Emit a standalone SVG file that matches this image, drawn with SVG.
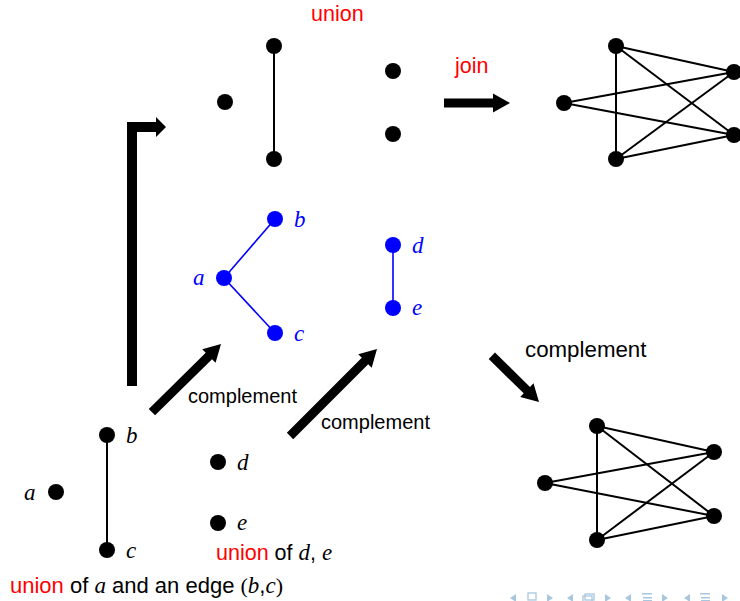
<svg xmlns="http://www.w3.org/2000/svg" width="740" height="601" viewBox="0 0 740 601">
<style>
.dot{fill:#000}
.bdot{fill:#0000ff}
.e{stroke:#000;stroke-width:2;fill:none}
.be{stroke:#0000ff;stroke-width:1.6;fill:none}
.arr{fill:#000}
.s{font-family:"Liberation Sans",Arial,sans-serif;fill:#000}
.red{fill:#ff0000}
.m{font-family:"Liberation Serif","Times New Roman",serif;font-style:italic;font-size:23px;fill:#000}
.mb{fill:#0000ff}
.nav{fill:#a9c6df}
</style>
<rect width="740" height="601" fill="#fff"/>

<g id="connectors">
  <line class="e" x1="274" y1="46" x2="274" y2="159"/>
  <g id="join-edges">
    <line class="e" x1="616" y1="46" x2="616" y2="159"/>
    <line class="e" x1="564" y1="103" x2="734" y2="72"/>
    <line class="e" x1="564" y1="103" x2="734" y2="135"/>
    <line class="e" x1="616" y1="46" x2="734" y2="72"/>
    <line class="e" x1="616" y1="46" x2="734" y2="135"/>
    <line class="e" x1="616" y1="159" x2="734" y2="72"/>
    <line class="e" x1="616" y1="159" x2="734" y2="135"/>
  </g>
  <line class="be" x1="224" y1="278" x2="275" y2="219"/>
  <line class="be" x1="224" y1="278" x2="275" y2="333"/>
  <line class="be" x1="393" y1="245" x2="393" y2="308"/>
  <line class="e" x1="107" y1="435" x2="107" y2="550"/>
  <g id="comp-edges">
    <line class="e" x1="597" y1="426" x2="597" y2="540"/>
    <line class="e" x1="545" y1="483" x2="714" y2="452"/>
    <line class="e" x1="545" y1="483" x2="714" y2="516"/>
    <line class="e" x1="597" y1="426" x2="714" y2="452"/>
    <line class="e" x1="597" y1="426" x2="714" y2="516"/>
    <line class="e" x1="597" y1="540" x2="714" y2="452"/>
    <line class="e" x1="597" y1="540" x2="714" y2="516"/>
  </g>
  <path id="arrow-L" class="arr" d="M127,386 V122 H156 V117 L166,127 L156,137 V132 H137 V386 Z"/>
  <path id="arrow-join" class="arr" transform="translate(510,103)" d="M-66,-4.5 H-17 V-9.5 L0,0 L-17,9.5 V4.5 H-66 Z"/>
  <path id="arrow-c1" class="arr" transform="translate(221,344) rotate(-44.6)" d="M-97,-4.5 H-17 V-9.5 L0,0 L-17,9.5 V4.5 H-97 Z"/>
  <path id="arrow-c2" class="arr" transform="translate(377,349) rotate(-45)" d="M-123,-4.5 H-17 V-9.5 L0,0 L-17,9.5 V4.5 H-123 Z"/>
  <path id="arrow-c3" class="arr" transform="translate(539,402) rotate(44.4)" d="M-66,-4.5 H-17 V-9.5 L0,0 L-17,9.5 V4.5 H-66 Z"/>
</g>

<g id="u-iso"><circle class="dot" cx="225" cy="102" r="8"/></g>
<g id="u-top"><circle class="dot" cx="274" cy="46" r="8"/></g>
<g id="u-bot"><circle class="dot" cx="274" cy="159" r="8"/></g>
<g id="u-r1"><circle class="dot" cx="393" cy="71" r="8"/></g>
<g id="u-r2"><circle class="dot" cx="393" cy="134" r="8"/></g>
<text class="s red" x="311" y="21" font-size="21.5">union</text>
<text class="s red" x="455" y="73" font-size="21.5">join</text>

<g id="j1"><circle class="dot" cx="616" cy="46" r="8"/></g>
<g id="j2"><circle class="dot" cx="564" cy="103" r="8"/></g>
<g id="j3"><circle class="dot" cx="616" cy="159" r="8"/></g>
<g id="j4"><circle class="dot" cx="734" cy="72" r="8"/></g>
<g id="j5"><circle class="dot" cx="734" cy="135" r="8"/></g>

<g id="ba"><circle class="bdot" cx="224" cy="278" r="8"/><text class="m mb" x="193" y="285">a</text></g>
<g id="bb"><circle class="bdot" cx="275" cy="219" r="8"/><text class="m mb" x="294" y="227">b</text></g>
<g id="bc"><circle class="bdot" cx="275" cy="333" r="8"/><text class="m mb" x="294" y="341">c</text></g>
<g id="bd"><circle class="bdot" cx="393" cy="245" r="8"/><text class="m mb" x="412" y="253">d</text></g>
<g id="be"><circle class="bdot" cx="393" cy="308" r="8"/><text class="m mb" x="412" y="315">e</text></g>

<text class="s" x="188" y="403" font-size="20">complement</text>
<text class="s" x="321" y="429" font-size="20">complement</text>
<text class="s" x="525" y="357" font-size="22.3">complement</text>

<g id="a"><circle class="dot" cx="56" cy="492" r="8"/><text class="m" x="24" y="500">a</text></g>
<g id="b"><circle class="dot" cx="107" cy="435" r="8"/><text class="m" x="126" y="443">b</text></g>
<g id="c"><circle class="dot" cx="107" cy="550" r="8"/><text class="m" x="126" y="558">c</text></g>
<g id="d"><circle class="dot" cx="218" cy="462" r="8"/><text class="m" x="237" y="470">d</text></g>
<g id="e"><circle class="dot" cx="218" cy="523" r="8"/><text class="m" x="237" y="530">e</text></g>

<text class="s" x="216" y="560" font-size="21.5"><tspan class="red">union</tspan> of <tspan class="m" font-size="23">d</tspan>, <tspan class="m" font-size="23">e</tspan></text>
<text class="s" x="10" y="593" font-size="22"><tspan class="red">union</tspan> of <tspan class="m" font-size="23">a</tspan> and an edge <tspan font-family="Liberation Serif,serif">(</tspan><tspan class="m" font-size="23">b</tspan>,<tspan class="m" font-size="23">c</tspan><tspan font-family="Liberation Serif,serif">)</tspan></text>

<g id="k1"><circle class="dot" cx="597" cy="426" r="8"/></g>
<g id="k2"><circle class="dot" cx="545" cy="483" r="8"/></g>
<g id="k3"><circle class="dot" cx="597" cy="540" r="8"/></g>
<g id="k4"><circle class="dot" cx="714" cy="452" r="8"/></g>
<g id="k5"><circle class="dot" cx="714" cy="516" r="8"/></g>

<g id="nav" class="nav">
  <path d="M516,594 L510,598 L516,602 Z"/>
  <rect x="528" y="593" width="8" height="7" fill="none" stroke="#a9c6df" stroke-width="1.3"/>
  <path d="M547,594 L553,598 L547,602 Z"/>
  <path d="M573,594 L567,598 L573,602 Z"/>
  <rect x="583" y="596" width="9" height="6" fill="none" stroke="#a9c6df" stroke-width="1.3"/>
  <rect x="585" y="594" width="9" height="6" fill="none" stroke="#a9c6df" stroke-width="1.3"/>
  <path d="M605,594 L611,598 L605,602 Z"/>
  <path d="M631,594 L625,598 L631,602 Z"/>
  <rect x="642" y="593" width="10" height="1.5"/>
  <rect x="643" y="597" width="9" height="1.5"/>
  <rect x="643" y="600" width="9" height="1.5"/>
  <path d="M662,594 L668,598 L662,602 Z"/>
  <path d="M690,594 L684,598 L690,602 Z"/>
  <rect x="700" y="593" width="10" height="1.5"/>
  <rect x="701" y="597" width="9" height="1.5"/>
  <rect x="701" y="600" width="9" height="1.5"/>
  <path d="M722,594 L728,598 L722,602 Z"/>
</g>
</svg>
